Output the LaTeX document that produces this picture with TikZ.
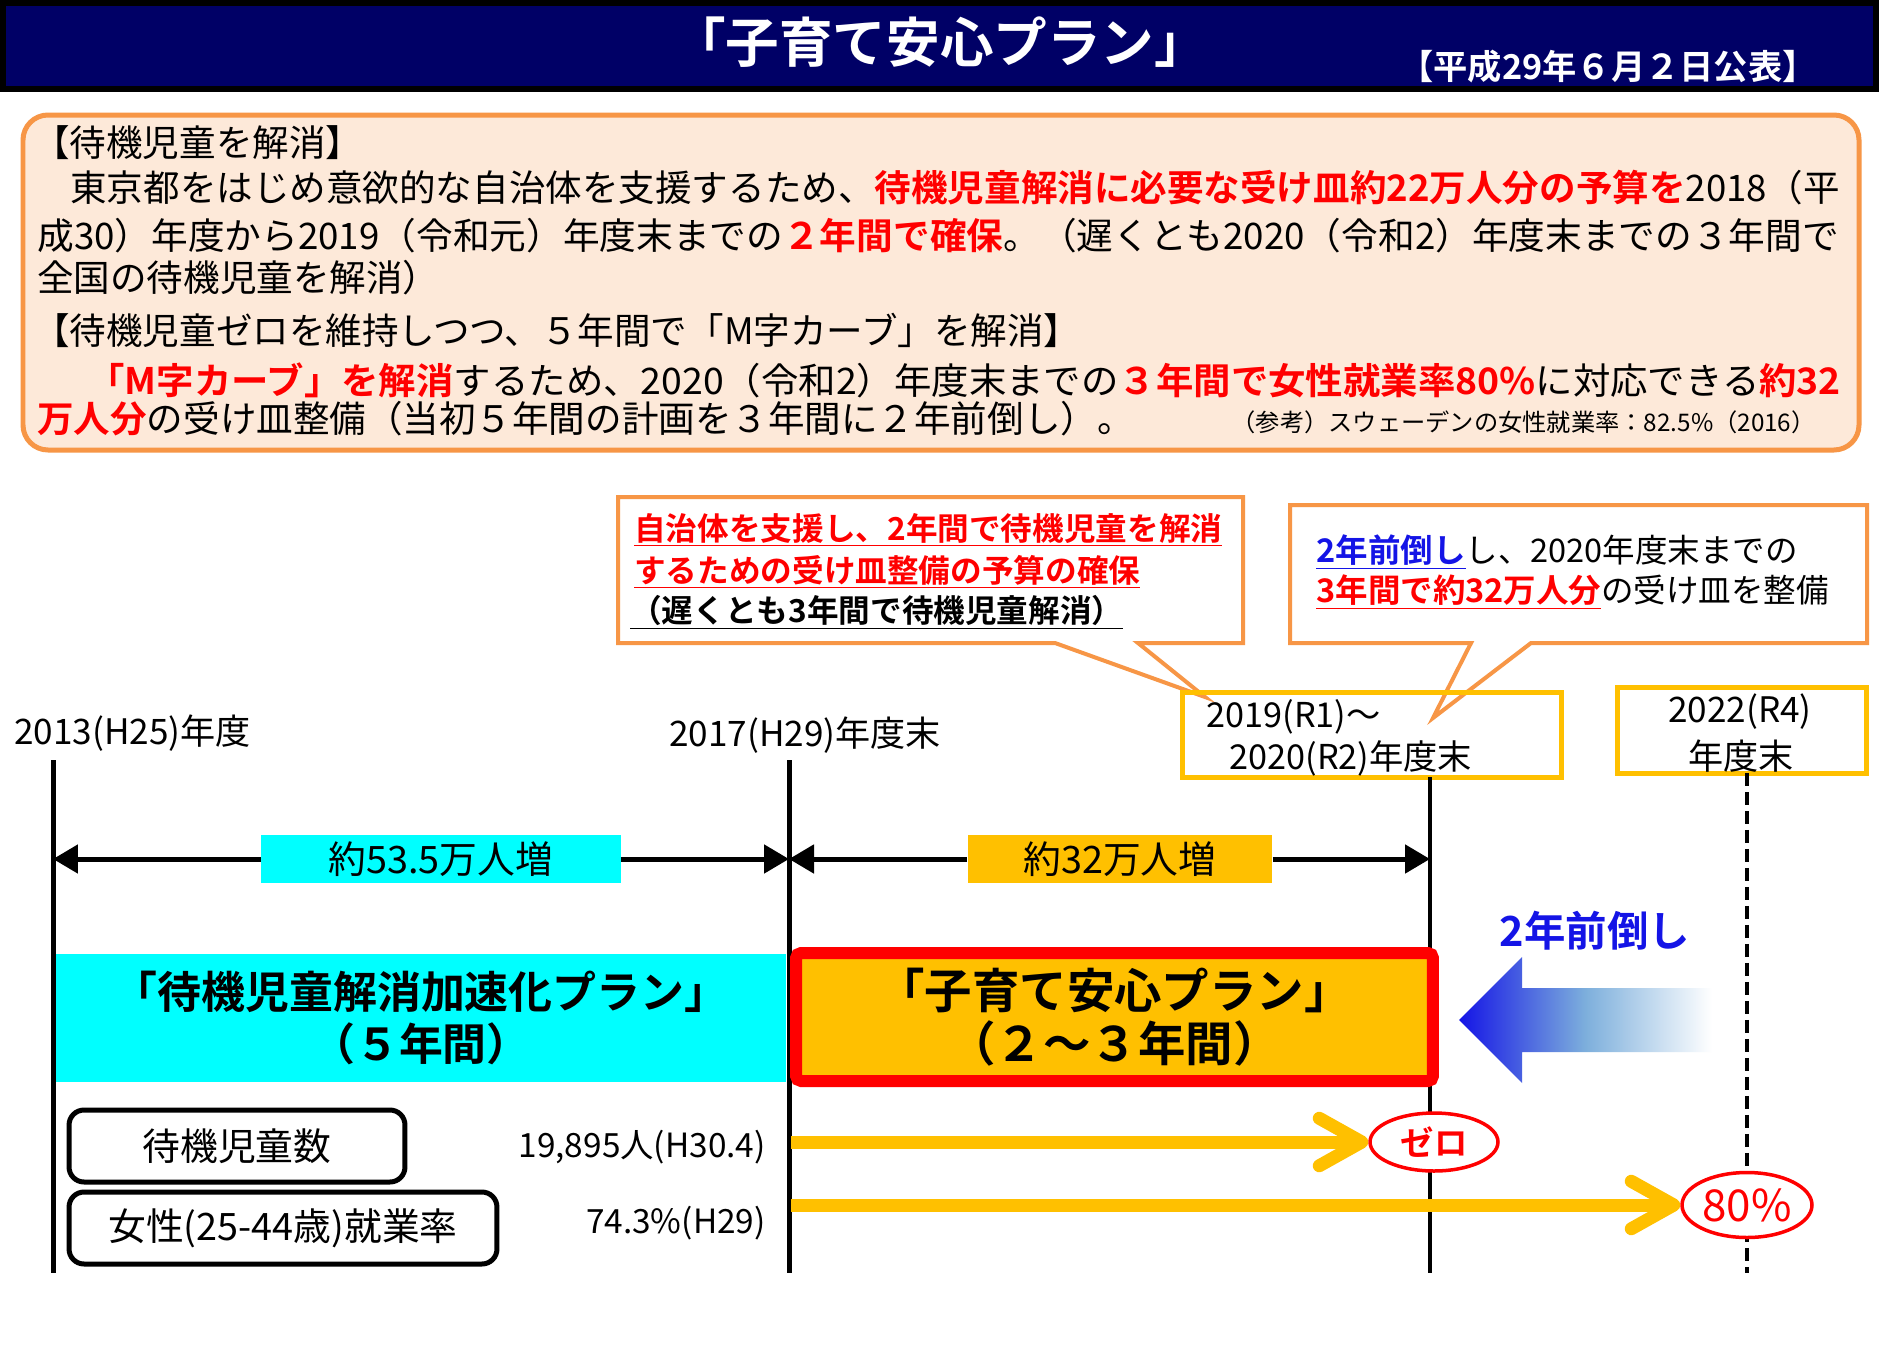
\documentclass[tikz,border=0pt]{standalone}
\usepackage{fontspec}
\setmainfont{Noto Sans CJK JP}[BoldFont={Noto Sans CJK JP Bold}]
\usetikzlibrary{arrows.meta,shapes.geometric}

\definecolor{navy}{RGB}{0,0,102}
\definecolor{peach}{RGB}{253,233,217}
\definecolor{orng}{RGB}{247,150,70}
\definecolor{gold}{RGB}{255,192,0}
\definecolor{aqua}{RGB}{0,255,255}
\definecolor{brightred}{RGB}{255,0,0}
\definecolor{royal}{RGB}{20,20,230}
\definecolor{steel}{RGB}{125,175,220}

\newcommand{\fsz}[2]{\fontsize{#1pt}{#2pt}\selectfont}
\newcommand{\hl}[1]{\textcolor{brightred}{\bfseries #1}}
\newcommand{\fitto}[2]{\resizebox{#1}{\height}{#2}}

\tikzset{
	bodytxt/.style={inner sep=0pt, anchor=west, font=\fsz{20.8}{25}},
	yeartxt/.style={inner sep=0pt, anchor=west, font=\fsz{20}{24}},
	valtxt/.style={inner sep=0pt, anchor=east, font=\fsz{19}{23}},
	calltxt/.style={inner sep=0pt, anchor=west, font=\bfseries\fsz{18}{22}},
	callout/.style={draw=orng, fill=white, line width=0.08cm},
	datebox/.style={draw=gold, line width=0.1cm, inner sep=0pt},
	tline/.style={line width=0.1cm},
	span/.style={line width=0.1cm, -{Triangle[length=0.5cm,width=0.56cm]}},
	incbox/.style={inner sep=0pt, minimum height=0.96cm, font=\fsz{21.5}{26}},
	planbox/.style={inner sep=0pt, minimum height=2.56cm, align=center},
	itembox/.style={draw, line width=0.1cm, rounded corners=0.3cm, inner sep=0pt, minimum height=1.44cm, font=\fsz{21.5}{26}},
	goaloval/.style={ellipse, draw=brightred, fill=white, line width=0.07cm, inner sep=0pt, text=brightred},
	goal/.style={gold, line width=0.26cm, -{Straight Barb[length=0.85cm,width=0.95cm,round]}},
}

\begin{document}
\begin{tikzpicture}[x=0.02cm,y=-0.02cm]
	\useasboundingbox (0,0) rectangle (1879,1352);
	\fill[white] (0,0) rectangle (1879,1352);

	% title bar
	\draw[line width=0.12cm, fill=navy] (3,3) rectangle (1876,89);
	\node[inner sep=0pt, text=white, font=\bfseries\fsz{30.5}{36}] (title) at (940,42) {「子育て安心プラン」};
	\node[inner sep=0pt, text=white, font=\bfseries\fsz{19.5}{24}] (date) at (1608,67) {【平成29年６月２日公表】};

	% summary
	\draw[draw=orng, fill=peach, line width=0.1cm, rounded corners=0.5cm] (23,115) rectangle (1859,450);
	\node[bodytxt] (p1) at (33,143) {【待機児童を解消】};
	\node[bodytxt] (p2) at (70,188) {\fitto{35.4cm}{東京都をはじめ意欲的な自治体を支援するため、\hl{待機児童解消に必要な受け皿約22万人分の予算を}2018（平}};
	\node[bodytxt] (p3) at (37,236) {\fitto{36.04cm}{成30）年度から2019（令和元）年度末までの\hl{２年間で確保}。（遅くとも2020（令和2）年度末までの３年間で}};
	\node[bodytxt] (p4) at (37,278) {全国の待機児童を解消）};
	\node[bodytxt] (p5) at (33,330) {【待機児童ゼロを維持しつつ、５年間で「M字カーブ」を解消】};
	\node[bodytxt] (p6) at (87,380) {\fitto{35.08cm}{\hl{「M字カーブ」を解消}するため、2020（令和2）年度末までの\hl{３年間で女性就業率80\%}に対応できる\hl{約32}}};
	\node[bodytxt] (p7) at (37,419) {\hl{万人分}の受け皿整備（当初５年間の計画を３年間に２年前倒し）。};
	\node[inner sep=0pt, anchor=east, font=\fsz{13.8}{16}] (ref) at (1816,422) {（参考）スウェーデンの女性就業率：82.5\%（2016）};

	% callouts
	\draw[callout] (618,497) -- (1243,497) -- (1243,643) -- (1138,643) -- (1205,697) -- (1055,643) -- (618,643) -- cycle;
	\node[calltxt, text=brightred] (c1a) at (634,530) {\underline{自治体を支援し、2年間で待機児童を解消}};
	\node[calltxt, text=brightred] (c1b) at (634,572) {\underline{するための受け皿整備の予算の確保}};
	\node[calltxt] (c1c) at (630,612) {\underline{（遅くとも3年間で待機児童解消）}};

	\draw[callout] (1290,505) -- (1867,505) -- (1867,643) -- (1531,643) -- (1433,718) -- (1471,643) -- (1290,643) -- cycle;
	\node[inner sep=0pt, anchor=west, font=\fsz{18.5}{22}] (c2a) at (1316,552) {\textcolor{royal}{\bfseries\underline{2年前倒し}}し、2020年度末までの};
	\node[inner sep=0pt, anchor=west, font=\fsz{18.5}{22}] (c2b) at (1316,592) {\textcolor{brightred}{\bfseries\underline{3年間で約32万人分}}の受け皿を整備};

	% year marks
	\node[yeartxt] (y0) at (14,733) {2013(H25)年度};
	\node[yeartxt] (y1) at (669,735) {2017(H29)年度末};
	\node[datebox, minimum width=7.6cm, minimum height=1.7cm] (d2) at (1372,734.5) {};
	\node[inner sep=0pt, anchor=west, font=\fsz{19.5}{24}] (y2a) at (1206,717) {2019(R1)～};
	\node[inner sep=0pt, anchor=west, font=\fsz{19.5}{24}] (y2b) at (1229,758) {2020(R2)年度末};
	\node[datebox, minimum width=4.98cm, minimum height=1.72cm] (d3) at (1741.5,730) {};
	\node[inner sep=0pt, font=\fsz{20}{24}] (y3a) at (1740,712) {2022(R4)};
	\node[inner sep=0pt, font=\fsz{20}{24}] (y3b) at (1741,756) {年度末};

	% time lines
	\coordinate (t0) at (53,760);
	\coordinate (b0) at (53,1273);
	\coordinate (t1) at (789,760);
	\coordinate (b1) at (789,1273);
	\coordinate (t2) at (1430,777);
	\coordinate (b2) at (1430,1273);
	\coordinate (t3) at (1747,773);
	\coordinate (b3) at (1747,1273);
	\draw[tline] (t0) -- (b0);
	\draw[tline] (t1) -- (b1);
	\draw[line width=0.07cm] (t2) -- (b2);
	\draw[line width=0.07cm, dash pattern=on 0.26cm off 0.12cm] (t3) -- (b3);

	% increases
	\coordinate (a0) at (53,859);
	\coordinate (a1) at (789,859);
	\coordinate (a2) at (1430,859);
	\node[incbox, fill=aqua, minimum width=7.2cm] (inc1) at (441,859) {約53.5万人増};
	\node[incbox, fill=gold, minimum width=6.1cm] (inc2) at (1120,859) {約32万人増};
	\draw[span] (inc1.west) -- (a0);
	\draw[span] (inc1.east) -- (a1);
	\draw[span] (inc2.west) -- (a1);
	\draw[span] (inc2.east) -- (a2);

	% plans
	\node[planbox, fill=aqua, minimum width=14.6cm, font=\bfseries\fsz{25}{29.5}] (accel) at (421,1018) {「待機児童解消加速化プラン」\\（５年間）};
	\node[planbox, draw=brightred, fill=gold, line width=0.24cm, rounded corners=0.1cm, minimum width=12.74cm, font=\bfseries\fsz{27}{30}] (anshin) at (1114.5,1017) {「子育て安心プラン」\\（２～３年間）};

	% two years ahead
	\shade[left color=royal, right color=white, middle color=steel] (1459,1020) -- (1522,957) -- (1522,988) -- (1712,988) -- (1712,1052) -- (1522,1052) -- (1522,1083) -- cycle;
	\node[inner sep=0pt, text=royal, font=\bfseries\fsz{23.6}{28}] (ahead) at (1595,931) {2年前倒し};

	% targets
	\node[itembox, minimum width=6.72cm] (wait) at (237,1146) {待機児童数};
	\node[itembox, minimum width=8.56cm] (emp) at (283,1228) {女性(25-44歳)就業率};
	\node[valtxt] (waitv) at (766,1147) {19,895人(H30.4)};
	\node[valtxt] (empv) at (766,1223) {74.3\%(H29)};
	\node[goaloval, minimum width=2.56cm, minimum height=1.16cm, font=\bfseries\fsz{19}{22}] (zero) at (1434,1142) {ゼロ};
	\node[goaloval, minimum width=2.6cm, minimum height=1.3cm, font=\fsz{25}{30}] (pct) at (1747,1205) {80\%};
	\coordinate (g1) at (791,1142);
	\coordinate (g2) at (791,1205);
	\draw[goal] (g1) -- (zero.west);
	\draw[goal] (g2) -- (pct.west);
\end{tikzpicture}
\end{document}
